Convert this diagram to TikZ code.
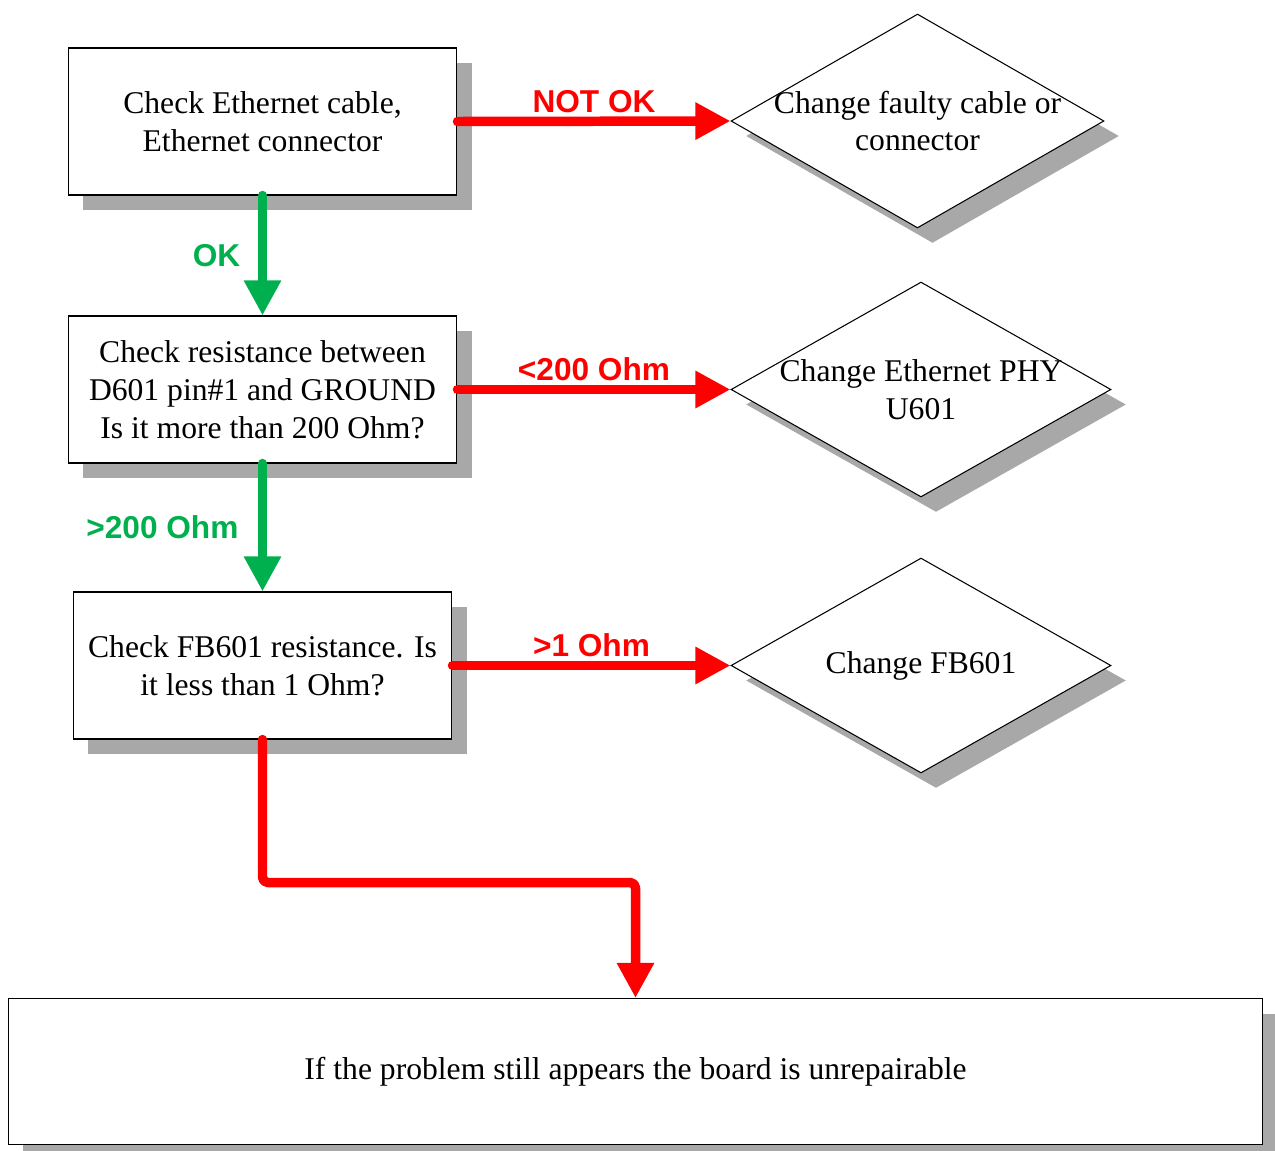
\documentclass[tikz,border=0pt]{standalone}
\usepackage{fontspec}
\setmainfont{Liberation Serif}
\setsansfont{Liberation Sans}
\usetikzlibrary{arrows.meta,shapes.geometric,shadows}
\definecolor{ffzzzz}{rgb}{1,0,0}
\definecolor{zzbbqq}{rgb}{0,0.69,0.31}
\definecolor{aaaaaa}{rgb}{0.66,0.66,0.66}
\tikzset{
	checkbox/.style={draw=black,line width=0.6pt,fill=white,minimum width=7.78cm,minimum height=2.94cm,align=center,font=\fontsize{18}{21.6}\selectfont,general shadow={fill=aaaaaa,shadow xshift=0.3cm,shadow yshift=-0.3cm}},
	fixbox/.style={draw=black,line width=0.6pt,fill=white,shape=diamond,inner sep=0pt,minimum width=7.6cm,minimum height=4.3cm,general shadow={fill=aaaaaa,shadow xshift=0.3cm,shadow yshift=-0.3cm}},
	fixtext/.style={align=center,font=\fontsize{18}{21.6}\selectfont},
	flow/.style={line width=5.4pt,line cap=round,line join=round,-{Triangle[length=20pt,width=20pt]}},
	lbl/.style={font=\fontsize{18}{21}\selectfont\sffamily\bfseries,inner sep=1pt}
}
\begin{document}
\begin{tikzpicture}[x=0.02cm,y=-0.02cm]
		\useasboundingbox (0,0) rectangle (1275,1150);
		% checks on the left
		\node[checkbox] (cable) at (262.5,121.5) {Check Ethernet cable,\\Ethernet connector};
		\node[checkbox] (resist) at (262.5,389.5) {Check resistance between\\D601 pin\#1 and GROUND\\Is it more than 200 Ohm?};
		\node[checkbox,minimum width=7.58cm] (ferrite) at (262.5,665.5) {Check FB601 resistance. Is\\it less than 1 Ohm?};
		\node[checkbox,minimum width=25.1cm,minimum height=2.92cm] (final) at (635.5,1071.5) {If the problem still appears the board is unrepairable};
		% fixes on the right
		\node[fixbox,minimum width=7.46cm,minimum height=4.28cm] (fixcable) at (917.5,121) {};
		\node[fixtext] (fixcabletxt) at (fixcable.center) {Change faulty cable or\\connector};
		\node[fixbox] (fixphy) at (921,389.5) {};
		\node[fixtext] (fixphytxt) at (fixphy.center) {Change Ethernet PHY\\U601};
		\node[fixbox] (fixfb) at (921,665.5) {};
		\node[fixtext] (fixfbtxt) at (fixfb.center) {Change FB601};
		% connectors
		\draw [flow,color=ffzzzz] (cable.east) -- node[lbl,text=ffzzzz,above=1pt,midway] {NOT OK} (fixcable.west);
		\draw [flow,color=zzbbqq] (cable.south) -- node[lbl,text=zzbbqq,left=9pt,midway] {OK} (resist.north);
		\draw [flow,color=ffzzzz] (resist.east) -- node[lbl,text=ffzzzz,above=1pt,midway] {<200 Ohm} (fixphy.west);
		\draw [flow,color=zzbbqq] (resist.south) -- node[lbl,text=zzbbqq,left=10pt,midway] {>200 Ohm} (ferrite.north);
		\draw [flow,color=ffzzzz] (ferrite.east) -- node[lbl,text=ffzzzz,above=1pt,midway] {>1 Ohm} (fixfb.west);
		\draw [flow,color=ffzzzz,rounded corners=3pt] (ferrite.south) -- ++(0,143) -| (final.north);
	\end{tikzpicture}
\end{document}
